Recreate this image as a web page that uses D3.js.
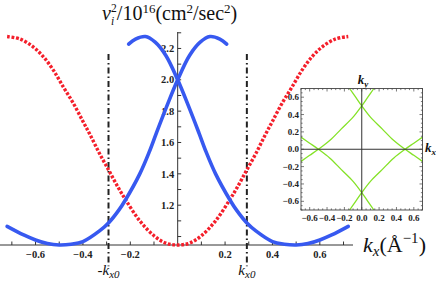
<!DOCTYPE html>
<html>
<head>
<meta charset="utf-8">
<script src="https://cdnjs.cloudflare.com/ajax/libs/d3/7.8.5/d3.min.js"></script>
<style>
  body { margin: 0; background: #fff; }
  svg { display: block; }
  text { font-family: 'Liberation Serif', 'Times New Roman', serif; }
  .tick-label { font-weight: bold; fill: #222; }
</style>
</head>
<body>
<div id="chart"></div>
<script>
//--- MAIN PLOT DATA  [kx, v^2 / 1e16]
var blueRising = [
  [-0.72, 1.065], [-0.65, 1.01], [-0.6, 0.978], [-0.55, 0.955], [-0.5, 0.946],
  [-0.45, 0.951], [-0.4, 0.968], [-0.33, 1.036], [-0.29, 1.09], [-0.25, 1.165],
  [-0.22, 1.235], [-0.16, 1.40], [-0.12, 1.54], [-0.09, 1.66], [-0.045, 1.835],
  [0, 2.0], [0.05, 2.155], [0.095, 2.24], [0.136, 2.276], [0.178, 2.26], [0.207, 2.228]
];
var blueFalling = [
  [-0.207, 2.228], [-0.178, 2.26], [-0.136, 2.276], [-0.095, 2.24], [-0.05, 2.155],
  [0, 2.0], [0.045, 1.835], [0.09, 1.66], [0.12, 1.54], [0.16, 1.40],
  [0.22, 1.235], [0.25, 1.165], [0.29, 1.09], [0.33, 1.036], [0.4, 0.968],
  [0.45, 0.951], [0.5, 0.946], [0.55, 0.955], [0.6, 0.978], [0.65, 1.01], [0.72, 1.065]
];
var redDotted = [
  [-0.72, 2.276], [-0.665, 2.26], [-0.61, 2.21], [-0.567, 2.147], [-0.525, 2.062],
  [-0.483, 1.955], [-0.44, 1.849], [-0.4, 1.735], [-0.37, 1.65], [-0.33, 1.53],
  [-0.29, 1.42], [-0.25, 1.31], [-0.22, 1.235], [-0.16, 1.10], [-0.1, 1.005],
  [-0.05, 0.958], [0, 0.946], [0.05, 0.958], [0.1, 1.005], [0.16, 1.10],
  [0.22, 1.235], [0.25, 1.31], [0.29, 1.42], [0.33, 1.53], [0.37, 1.65],
  [0.4, 1.735], [0.44, 1.849], [0.483, 1.955], [0.525, 2.062], [0.567, 2.147],
  [0.61, 2.21], [0.665, 2.26], [0.72, 2.276]
];

//--- MARKER LINES  (±kx0)
var kx0Lines = [-0.292, 0.292];
var kx0Labels = ['-', ''];
var kx0Span = [0.81, 2.165];

//--- MAIN TICKS
var xTicks = [-0.7, -0.6, -0.5, -0.4, -0.3, -0.2, -0.1, 0.1, 0.2, 0.3, 0.4, 0.5, 0.6, 0.7];
var xTickLabels = [-0.6, -0.4, -0.2, 0.2, 0.4, 0.6];
var yTicks = [1.0, 1.1, 1.2, 1.3, 1.4, 1.5, 1.6, 1.7, 1.8, 1.9, 2.0, 2.1, 2.2, 2.3];
var yTickLabels = [1.2, 1.4, 1.6, 1.8, 2.0, 2.2];

//--- INSET DATA  [kx, ky]
var greenA = [[-0.14, 0.70], [-0.07, 0.60], [0, 0.50], [0.1, 0.37], [0.235, 0.235], [0.37, 0.1], [0.5, 0], [0.6, -0.07], [0.7, -0.14]];
var greenB = [[0.14, 0.70], [0.07, 0.60], [0, 0.50], [-0.1, 0.37], [-0.235, 0.235], [-0.37, 0.1], [-0.5, 0], [-0.6, -0.07], [-0.7, -0.14]];
var greenC = [[-0.14, -0.70], [-0.07, -0.60], [0, -0.50], [0.1, -0.37], [0.235, -0.235], [0.37, -0.1], [0.5, 0], [0.6, 0.07], [0.7, 0.14]];
var greenD = [[0.14, -0.70], [0.07, -0.60], [0, -0.50], [-0.1, -0.37], [-0.235, -0.235], [-0.37, -0.1], [-0.5, 0], [-0.6, 0.07], [-0.7, 0.14]];
var insetTickLabels = [-0.6, -0.4, -0.2, 0, 0.2, 0.4, 0.6];

var fmt = d3.format('.1f');

//--- CREATE SVG
var svg = d3.select('#chart')
  .append('svg')
  .attr('width', 436)
  .attr('height', 288);

svg.append('rect')
  .attr('width', 436)
  .attr('height', 288)
  .attr('fill', '#fff');

//--- SCALES
var scaleX = d3.scaleLinear()
  .domain([-0.75, 0.74])
  .range([0, 353]);

var scaleY = d3.scaleLinear()
  .domain([0.946, 2.305])
  .range([245, 32]);

var lineFunc = d3.line()
  .x(function(d) { return scaleX(d[0]); })
  .y(function(d) { return scaleY(d[1]); })
  .curve(d3.curveCatmullRom);

//--- AXES
var axes = svg.append('g').attr('stroke', '#333').attr('stroke-width', 1);

axes.append('line')
  .attr('x1', scaleX(-0.75)).attr('x2', scaleX(0.74))
  .attr('y1', scaleY(0.946)).attr('y2', scaleY(0.946));

axes.append('line')
  .attr('x1', scaleX(0)).attr('x2', scaleX(0))
  .attr('y1', scaleY(0.946)).attr('y2', scaleY(2.305));

axes.selectAll('.xtick')
  .data(xTicks)
  .enter().append('line')
  .attr('x1', function(d) { return scaleX(d); })
  .attr('x2', function(d) { return scaleX(d); })
  .attr('y1', scaleY(0.946))
  .attr('y2', scaleY(0.946) - 3.5);

axes.selectAll('.ytick')
  .data(yTicks)
  .enter().append('line')
  .attr('x1', scaleX(0))
  .attr('x2', scaleX(0) + 3.5)
  .attr('y1', function(d) { return scaleY(d); })
  .attr('y2', function(d) { return scaleY(d); });

svg.selectAll('.xlabel')
  .data(xTickLabels)
  .enter().append('text')
  .attr('class', 'tick-label')
  .attr('x', function(d) { return scaleX(d); })
  .attr('y', 258)
  .attr('text-anchor', 'middle')
  .style('font-size', '10.5px')
  .text(function(d) { return fmt(d); });

svg.selectAll('.ylabel')
  .data(yTickLabels)
  .enter().append('text')
  .attr('class', 'tick-label')
  .attr('x', scaleX(0) - 3.5)
  .attr('y', function(d) { return scaleY(d); })
  .attr('dy', '0.35em')
  .attr('text-anchor', 'end')
  .style('font-size', '10.5px')
  .text(function(d) { return fmt(d); });

//--- KX0 MARKER LINES
svg.selectAll('.kx0')
  .data(kx0Lines)
  .enter().append('line')
  .attr('x1', function(d) { return scaleX(d); })
  .attr('x2', function(d) { return scaleX(d); })
  .attr('y1', scaleY(kx0Span[1]))
  .attr('y2', scaleY(kx0Span[0]))
  .attr('stroke', '#222')
  .attr('stroke-width', 2)
  .attr('stroke-dasharray', '6,3,1.5,3');

var kx0Text = svg.selectAll('.kx0label')
  .data(kx0Lines)
  .enter().append('text')
  .attr('x', function(d) { return scaleX(d); })
  .attr('y', 275)
  .attr('text-anchor', 'middle')
  .style('font-size', '15px')
  .attr('fill', '#111');

kx0Text.append('tspan').text(function(d, i) { return kx0Labels[i]; });
kx0Text.append('tspan').style('font-style', 'italic').text('k');
kx0Text.append('tspan').style('font-style', 'italic').style('font-size', '11px').attr('dy', 3).text('x0');

//--- CURVES
svg.append('path')
  .datum(redDotted)
  .attr('d', lineFunc)
  .attr('fill', 'none')
  .attr('stroke', '#f41f2b')
  .attr('stroke-width', 3.4)
  .attr('stroke-dasharray', '2.8,1.7');

[blueRising, blueFalling].forEach(function(series) {
  svg.append('path')
    .datum(series)
    .attr('d', lineFunc)
    .attr('fill', 'none')
    .attr('stroke', '#3759f0')
    .attr('stroke-width', 3.6)
    .attr('stroke-linecap', 'round');
});

//--- TITLE
var title = svg.append('text')
  .attr('x', 102)
  .attr('y', 20)
  .style('font-size', '20px')
  .attr('fill', '#111');

title.append('tspan').style('font-style', 'italic').text('v');
title.append('tspan').style('font-style', 'italic').style('font-size', '11.5px').attr('dy', 5).text('i');
title.append('tspan').style('font-size', '11.5px').attr('dx', -3).attr('dy', -13).text('2');
title.append('tspan').attr('dy', 8).text('/10');
title.append('tspan').style('font-size', '13px').attr('dy', -7).text('16');
title.append('tspan').attr('dy', 7).text('(cm');
title.append('tspan').style('font-size', '13px').attr('dy', -7).text('2');
title.append('tspan').attr('dy', 7).text('/sec');
title.append('tspan').style('font-size', '13px').attr('dy', -7).text('2');
title.append('tspan').attr('dy', 7).text(')');

//--- X AXIS LABEL
var xLabel = svg.append('text')
  .attr('x', 363)
  .attr('y', 252)
  .style('font-size', '22px')
  .attr('fill', '#111');

xLabel.append('tspan').style('font-style', 'italic').text('k');
xLabel.append('tspan').style('font-style', 'italic').style('font-size', '15px').attr('dy', 4).text('x');
xLabel.append('tspan').attr('dy', -4).text('(Å');
xLabel.append('tspan').style('font-size', '15px').attr('dy', -9).text('−1');
xLabel.append('tspan').attr('dy', 9).text(')');

//--- INSET
var insetX = d3.scaleLinear().domain([-0.7, 0.7]).range([301, 422.5]);
var insetY = d3.scaleLinear().domain([-0.7, 0.7]).range([210, 88.5]);

var inset = svg.append('g');

inset.append('rect')
  .attr('x', 301).attr('y', 88.5)
  .attr('width', 121.5).attr('height', 121.5)
  .attr('fill', '#fff');

inset.append('clipPath')
  .attr('id', 'clip')
  .append('rect')
  .attr('x', 301).attr('y', 88.5)
  .attr('width', 121.5).attr('height', 121.5);

var insetLine = d3.line()
  .x(function(d) { return insetX(d[0]); })
  .y(function(d) { return insetY(d[1]); })
  .curve(d3.curveCatmullRom);

[greenA, greenB, greenC, greenD].forEach(function(series) {
  inset.append('path')
    .datum(series)
    .attr('d', insetLine)
    .attr('clip-path', 'url(#clip)')
    .attr('fill', 'none')
    .attr('stroke', '#84e227')
    .attr('stroke-width', 1.3);
});

// inner axes
inset.append('line')
  .attr('x1', insetX(-0.7)).attr('x2', insetX(0.7))
  .attr('y1', insetY(0)).attr('y2', insetY(0))
  .attr('stroke', '#333').attr('stroke-width', 1);

inset.append('line')
  .attr('x1', insetX(0)).attr('x2', insetX(0))
  .attr('y1', insetY(-0.7)).attr('y2', insetY(0.7))
  .attr('stroke', '#333').attr('stroke-width', 1);

// frame + ticks
inset.append('rect')
  .attr('x', 301).attr('y', 88.5)
  .attr('width', 121.5).attr('height', 121.5)
  .attr('fill', 'none')
  .attr('stroke', '#444')
  .attr('stroke-width', 0.9);

var minorTicks = insetX.ticks(28);

var frameTicks = inset.append('g').attr('stroke', '#444').attr('stroke-width', 0.7);

minorTicks.forEach(function(t) {
  var major = insetTickLabels.indexOf(+t.toFixed(2)) >= 0;
  var len = major ? 3 : 1.6;
  frameTicks.append('line')
    .attr('x1', insetX(t)).attr('x2', insetX(t))
    .attr('y1', 210).attr('y2', 210 - len);
  frameTicks.append('line')
    .attr('x1', insetX(t)).attr('x2', insetX(t))
    .attr('y1', 88.5).attr('y2', 88.5 + len);
  frameTicks.append('line')
    .attr('x1', 301).attr('x2', 301 + len)
    .attr('y1', insetY(t)).attr('y2', insetY(t));
  frameTicks.append('line')
    .attr('x1', 422.5).attr('x2', 422.5 - len)
    .attr('y1', insetY(t)).attr('y2', insetY(t));
});

inset.selectAll('.ix')
  .data(insetTickLabels)
  .enter().append('text')
  .attr('class', 'tick-label')
  .attr('x', function(d) { return insetX(d); })
  .attr('y', 221)
  .attr('text-anchor', 'middle')
  .style('font-size', '9px')
  .text(function(d) { return fmt(d); });

inset.selectAll('.iy')
  .data(insetTickLabels)
  .enter().append('text')
  .attr('class', 'tick-label')
  .attr('x', 299)
  .attr('y', function(d) { return insetY(d); })
  .attr('dy', '0.35em')
  .attr('text-anchor', 'end')
  .style('font-size', '9px')
  .text(function(d) { return fmt(d); });

var kyLabel = inset.append('text')
  .attr('x', insetX(0) - 4)
  .attr('y', 84)
  .style('font-size', '13px')
  .style('font-weight', 'bold')
  .style('font-style', 'italic')
  .attr('fill', '#111');
kyLabel.append('tspan').text('k');
kyLabel.append('tspan').style('font-size', '9px').attr('dy', 2.5).text('y');

var kxLabel = inset.append('text')
  .attr('x', 425)
  .attr('y', 152)
  .style('font-size', '13px')
  .style('font-weight', 'bold')
  .style('font-style', 'italic')
  .attr('fill', '#111');
kxLabel.append('tspan').text('k');
kxLabel.append('tspan').style('font-size', '9px').attr('dy', 2.5).text('x');
</script>
</body>
</html>
